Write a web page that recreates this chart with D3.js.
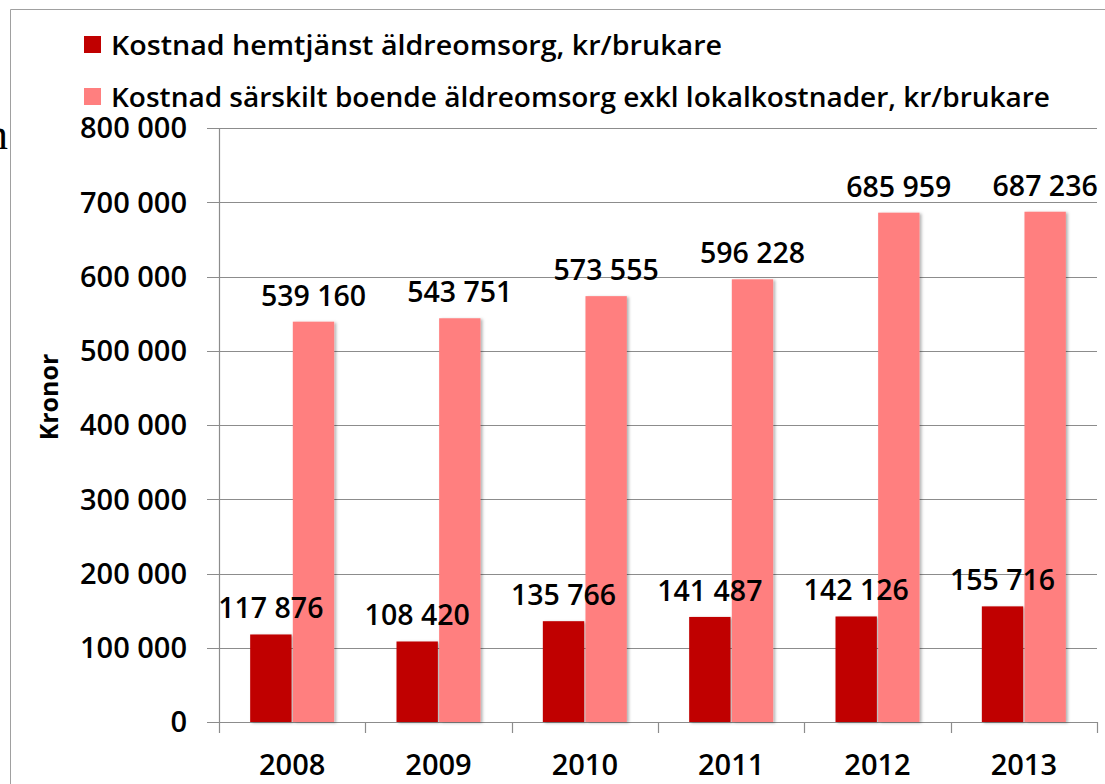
<!DOCTYPE html>
<html>
<head>
<meta charset="utf-8">
<script src="https://cdn.jsdelivr.net/npm/d3@7"></script>
<style>
  body { margin: 0; background: #fff; }
  text { font-family: "Open Sans", "Liberation Sans", Arial, sans-serif; font-weight: 600; fill: #000; }
</style>
</head>
<body>
<script>
// chart data
var years = ['2008', '2009', '2010', '2011', '2012', '2013'];
var seriesNames = [
  'Kostnad hemtjänst äldreomsorg, kr/brukare',
  'Kostnad särskilt boende äldreomsorg exkl lokalkostnader, kr/brukare'
];
var hemtjanst = [117876, 108420, 135766, 141487, 142126, 155716];
var boende = [539160, 543751, 573555, 596228, 685959, 687236];
var yTicks = [0, 100000, 200000, 300000, 400000, 500000, 600000, 700000, 800000];
var colors = ['#c00000', '#ff7f7f'];

var width = 1105, height = 784;
var fmt = function (v) {
  // swedish style thousands with space
  return d3.format(',')(v).replace(/,/g, ' ');
};

var svg = d3.select('body').append('svg')
  .attr('width', width)
  .attr('height', height);

var defs = svg.append('defs');
var f = defs.append('filter').attr('id', 'shadow')
  .attr('x', '-20%').attr('y', '-5%').attr('width', '140%').attr('height', '110%');
f.append('feDropShadow')
  .attr('dx', 2).attr('dy', 1)
  .attr('stdDeviation', 1.5)
  .attr('flood-color', '#000')
  .attr('flood-opacity', 0.3);

// outer frame (only top and left visible)
svg.append('path')
  .attr('d', 'M10.5,' + height + 'V9.5H' + width)
  .attr('fill', 'none')
  .attr('stroke', '#a0a0a0')
  .attr('stroke-width', 1);

// stray glyph at left edge
svg.append('text')
  .attr('x', 8).attr('y', 149)
  .attr('text-anchor', 'end')
  .style('font-family', '"Liberation Serif", serif')
  .style('font-weight', 'normal')
  .style('font-size', '44px')
  .text('n');

var plot = { left: 219, right: 1097, top: 128, bottom: 722 };

var y = d3.scaleLinear()
  .domain([0, 800000])
  .range([plot.bottom, plot.top]);

var x0 = d3.scaleBand()
  .domain(years)
  .range([plot.left, plot.right]);

var x1 = d3.scaleBand()
  .domain([0, 1])
  .range([x0.bandwidth() / 2 - 42, x0.bandwidth() / 2 + 42])
  .paddingInner(0.03);

// gridlines
svg.append('g')
  .selectAll('line')
  .data(yTicks)
  .join('line')
  .attr('x1', plot.left - 12)
  .attr('x2', plot.right)
  .attr('y1', d => Math.round(y(d)) + 0.5)
  .attr('y2', d => Math.round(y(d)) + 0.5)
  .attr('stroke', '#8c8c8c')
  .attr('stroke-width', 1.2);

// y axis line
svg.append('line')
  .attr('x1', plot.left + 0.5).attr('x2', plot.left + 0.5)
  .attr('y1', plot.top).attr('y2', plot.bottom + 11)
  .attr('stroke', '#8c8c8c')
  .attr('stroke-width', 1.2);

// category ticks
svg.append('g')
  .selectAll('line')
  .data(years.slice(1).concat(['end']))
  .join('line')
  .attr('x1', (d, i) => Math.round(i < years.length - 1 ? x0(d) : plot.right) + 0.5)
  .attr('x2', (d, i) => Math.round(i < years.length - 1 ? x0(d) : plot.right) + 0.5)
  .attr('y1', plot.bottom)
  .attr('y2', plot.bottom + 11)
  .attr('stroke', '#8c8c8c')
  .attr('stroke-width', 1.2);

// y tick labels
svg.append('g')
  .selectAll('text')
  .data(yTicks)
  .join('text')
  .attr('x', 187)
  .attr('y', d => y(d))
  .attr('dy', '0.36em')
  .attr('text-anchor', 'end')
  .style('font-size', '29px')
  .text(fmt);

// x labels
svg.append('g')
  .selectAll('text')
  .data(years)
  .join('text')
  .attr('x', d => x0(d) + x0.bandwidth() / 2)
  .attr('y', 775)
  .attr('text-anchor', 'middle')
  .style('font-size', '29px')
  .text(d => d);

// axis title
svg.append('text')
  .attr('transform', 'translate(58,397) rotate(-90)')
  .attr('text-anchor', 'middle')
  .style('font-size', '25px')
  .style('font-weight', 'bold')
  .text('Kronor');

// bars
var allSeries = [hemtjanst, boende];
var groups = svg.append('g')
  .selectAll('g')
  .data(years)
  .join('g')
  .attr('transform', d => 'translate(' + x0(d) + ',0)');

groups.selectAll('rect')
  .data((d, i) => allSeries.map((s, k) => ({ k: k, v: s[i] })))
  .join('rect')
  .attr('x', d => x1(d.k))
  .attr('width', x1.bandwidth())
  .attr('y', d => y(d.v))
  .attr('height', d => y(0) - y(d.v))
  .attr('fill', d => colors[d.k])
  .attr('filter', 'url(#shadow)');

// data labels
groups.selectAll('text')
  .data((d, i) => allSeries.map((s, k) => ({ k: k, v: s[i] })))
  .join('text')
  .attr('x', d => x1(d.k) + x1.bandwidth() / 2)
  .attr('y', d => y(d.v) - 16)
  .attr('text-anchor', 'middle')
  .style('font-size', '28.5px')
  .text(d => fmt(d.v));

// legend
var legendWidths = [611, 939];
var legend = svg.append('g')
  .selectAll('g')
  .data(seriesNames)
  .join('g')
  .attr('transform', (d, i) => 'translate(84,' + (36 + i * 52) + ')');

legend.append('rect')
  .attr('width', 17)
  .attr('height', 17)
  .attr('fill', (d, i) => colors[i]);

legend.append('text')
  .attr('x', 27)
  .attr('y', 19)
  .attr('textLength', (d, i) => legendWidths[i])
  .attr('lengthAdjust', 'spacingAndGlyphs')
  .style('font-size', '27px')
  .text(d => d);
</script>
</body>
</html>
